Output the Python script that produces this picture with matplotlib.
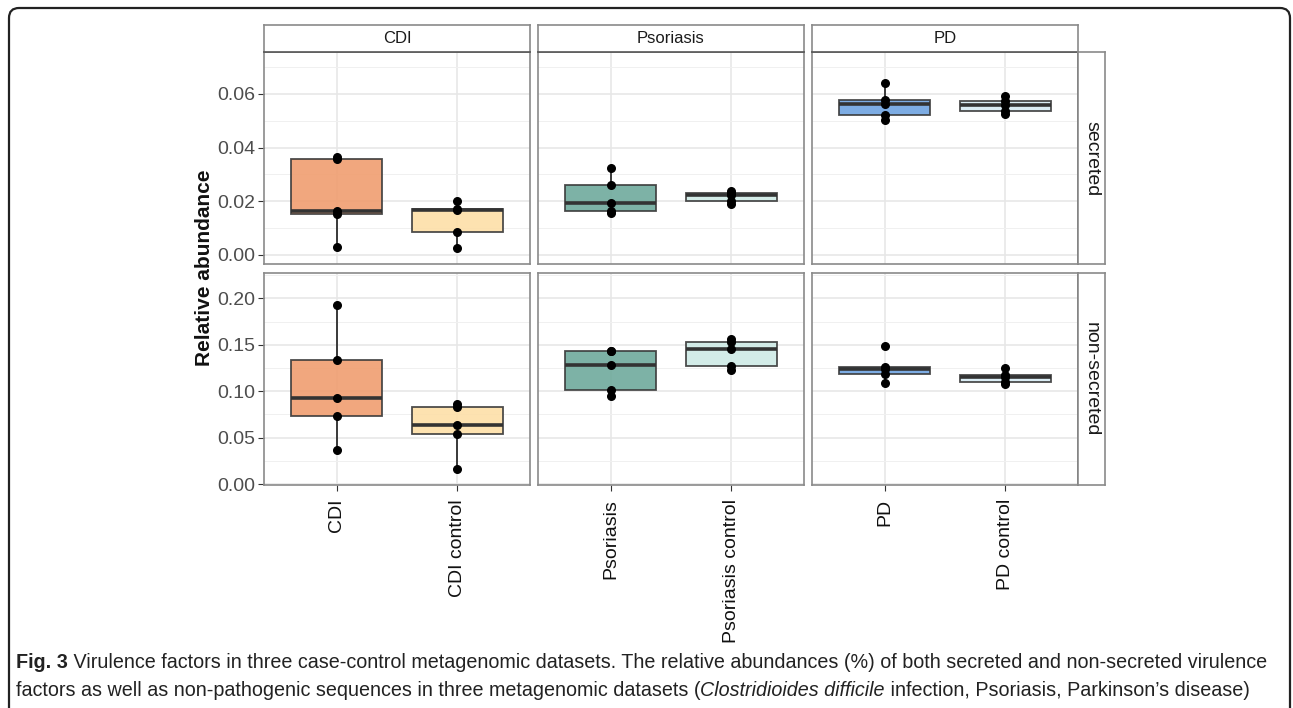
import numpy as np
import matplotlib
matplotlib.use("Agg")
import matplotlib.pyplot as plt
from matplotlib.patches import FancyBboxPatch

plt.rcParams['font.family'] = ['Liberation Sans', 'DejaVu Sans']

# data (relative abundance per sample)
datasets = ["CDI", "Psoriasis", "PD"]
groups = [["CDI", "CDI control"], ["Psoriasis", "Psoriasis control"], ["PD", "PD control"]]
rows = ["secreted", "non-secreted"]

secreted = [
    [[0.0031, 0.0152, 0.0163, 0.0359, 0.0365], [0.0024, 0.0084, 0.0168, 0.0172, 0.0200]],
    [[0.0156, 0.0165, 0.0195, 0.0260, 0.0323], [0.0188, 0.0200, 0.0222, 0.0231, 0.0240]],
    [[0.0503, 0.0521, 0.0562, 0.0578, 0.0640], [0.0525, 0.0536, 0.0558, 0.0573, 0.0592]],
]
non_secreted = [
    [[0.0370, 0.0730, 0.0930, 0.1335, 0.1930], [0.0162, 0.0542, 0.0639, 0.0830, 0.0865]],
    [[0.0951, 0.1010, 0.1285, 0.1433, 0.1436], [0.1228, 0.1274, 0.1458, 0.1530, 0.1565]],
    [[0.1088, 0.1181, 0.1240, 0.1264, 0.1483], [0.1077, 0.1099, 0.1156, 0.1174, 0.1253]],
]
values = [secreted, non_secreted]

fills = [["#F09E70", "#FDDFA8"], ["#6FAA9C", "#CFEAE6"], ["#6FA3E0", "#D8ECF4"]]

row_ticks = [[0.00, 0.02, 0.04, 0.06], [0.00, 0.05, 0.10, 0.15, 0.20]]
row_minor = [[0.01, 0.03, 0.05, 0.07], [0.025, 0.075, 0.125, 0.175, 0.225]]
row_lims = [(-0.0035, 0.0755), (-0.001, 0.2269)]

W, H = 1293, 708
fig = plt.figure(figsize=(W / 100, H / 100), dpi=100)

# background frame with rounded corners
bg = fig.add_axes([0, 0, 1, 1], zorder=-5)
bg.set_xlim(0, W)
bg.set_ylim(H, 0)
bg.axis("off")
bg.add_patch(FancyBboxPatch((9, 8), 1281, 740, boxstyle="round,pad=0,rounding_size=10",
                            fc="white", ec="#222222", lw=1.6))

def fx(px):
    return px / W

def fy(py):
    return 1 - py / H

col_x = [264, 538, 812]
pw = 266
row_y = [(52.3, 264.3), (273.3, 485)]
border = "#8a8a8a"

for r in range(2):
    top, bot = row_y[r]
    for c in range(3):
        ax = fig.add_axes([fx(col_x[c]), fy(bot), fx(pw), (bot - top) / H])
        data = values[r][c]
        bp = ax.boxplot(data, positions=[1, 2], widths=0.75, patch_artist=True,
                        showcaps=False, showfliers=False, whis=1.5,
                        boxprops=dict(ec="#3a3a3a", lw=1.3),
                        whiskerprops=dict(color="#3a3a3a", lw=1.4),
                        medianprops=dict(color="#333333", lw=2.6))
        for patch, col in zip(bp["boxes"], fills[c]):
            patch.set_facecolor(col)
            patch.set_alpha(0.9)
        for i, d in enumerate(data):
            ax.scatter(np.full(len(d), i + 1), d, s=30, color="black", zorder=5)

        ax.set_xlim(0.4, 2.6)
        ax.set_ylim(*row_lims[r])
        ax.set_yticks(row_ticks[r])
        ax.set_yticks(row_minor[r], minor=True)
        ax.set_xticks([1, 2])
        ax.grid(which="major", color="#e6e6e6", lw=1.1)
        ax.grid(which="minor", axis="y", color="#f0f0f0", lw=0.7)
        ax.set_axisbelow(True)
        for s in ax.spines.values():
            s.set_color(border)
            s.set_linewidth(1.2)
        if c == 2:
            ax.spines["right"].set_color("#555555")
        ax.tick_params(which="minor", length=0)
        if c == 0:
            ax.set_yticklabels(["%.2f" % t for t in row_ticks[r]], fontsize=14, color="#4d4d4d")
            ax.tick_params(axis="y", length=4, color="#333333", pad=2)
        else:
            ax.tick_params(axis="y", length=0, labelleft=False)
        if r == 1:
            ax.set_xticklabels(groups[c], rotation=90, fontsize=14, color="#111111", va="top")
            ax.tick_params(axis="x", length=4, color="#333333", pad=6)
        else:
            ax.tick_params(axis="x", length=0, labelbottom=False)

# top strips
for c in range(3):
    sa = fig.add_axes([fx(col_x[c]), fy(52.3), fx(pw), (52.3 - 24.5) / H])
    sa.set_xticks([])
    sa.set_yticks([])
    for s in sa.spines.values():
        s.set_color(border)
        s.set_linewidth(1.2)
    sa.spines["bottom"].set_color("#555555")
    sa.text(0.5, 0.5, datasets[c], ha="center", va="center", fontsize=12, color="#1a1a1a",
            transform=sa.transAxes)

# right strips
for r in range(2):
    top, bot = row_y[r]
    sa = fig.add_axes([fx(1078), fy(bot), fx(27), (bot - top) / H])
    sa.set_xticks([])
    sa.set_yticks([])
    for s in sa.spines.values():
        s.set_color(border)
        s.set_linewidth(1.2)
    sa.text(0.5, 0.5, rows[r], ha="center", va="center", rotation=-90, fontsize=14,
            color="#1a1a1a", transform=sa.transAxes)

fig.text(fx(205), fy(268), "Relative abundance", rotation=90, ha="center", va="center",
         fontsize=15, fontweight="bold", color="#111111")

# caption
renderer = fig.canvas.get_renderer()
cap_size = 14.2

def draw_runs(x, y, runs):
    for txt, kw in runs:
        t = fig.text(x, y, txt, fontsize=cap_size, color="#222222",
                     va="baseline", ha="left", **kw)
        bb = t.get_window_extent(renderer)
        x = bb.x1 / W

draw_runs(fx(16), fy(668), [
    ("Fig. 3", dict(fontweight="bold")),
    (" Virulence factors in three case-control metagenomic datasets. The relative abundances (%) of both secreted and non-secreted virulence", {}),
])
draw_runs(fx(16), fy(696), [
    ("factors as well as non-pathogenic sequences in three metagenomic datasets (", {}),
    ("Clostridioides difficile", dict(style="italic")),
    (" infection, Psoriasis, Parkinson\u2019s disease)", {}),
])

fig.savefig("out.png", dpi=100)
